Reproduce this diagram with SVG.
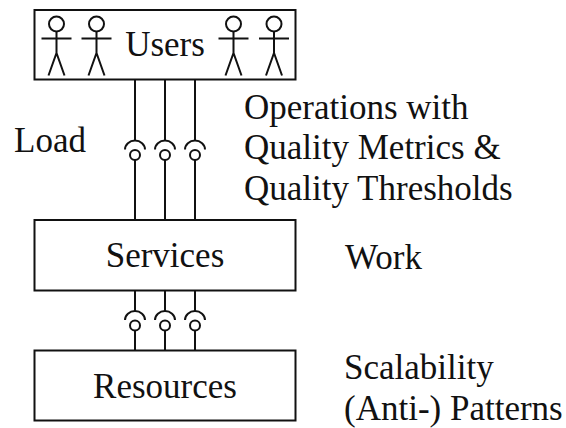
<svg xmlns="http://www.w3.org/2000/svg" width="566" height="428" viewBox="0 0 566 428">
<defs>
<style>
.s{fill:none;stroke:#111;stroke-width:2}
.b{fill:#fff;stroke:#111;stroke-width:2}
text{font-family:"Liberation Serif","Times New Roman",serif;font-size:35px;fill:#111}
.m{text-anchor:middle}
</style>
<g id="person" class="s">
<circle cx="0" cy="24" r="7.500"/>
<path d="M0 31.500V53M-15 38.500H15M-8 75.500L0 53L8 75.500"/>
</g>
<g id="joint" class="s">
<path d="M-10 149.500A10 9 0 0 1 10 149.500"/>
<circle cx="0" cy="155" r="5"/>
</g>
</defs>
<rect width="566" height="428" fill="#fff"/>
<g id="connectors" class="s">
<path d="M135 79V141M165 79V141M195 79V141M135 160V219M165 160V219M195 160V219"/>
<path d="M135 290V311M165 290V311M195 290V311M135 331V350M165 331V350M195 331V350"/>
<use href="#joint" x="135"/><use href="#joint" x="165"/><use href="#joint" x="195"/>
<use href="#joint" x="135" y="170.500"/><use href="#joint" x="165" y="170.500"/><use href="#joint" x="195" y="170.500"/>
</g>
<g id="users">
<rect class="b" x="34.500" y="10" width="261" height="69.500"/>
<use href="#person" x="56.500"/><use href="#person" x="96.500"/><use href="#person" x="233.500"/><use href="#person" x="274"/>
<text class="m" x="165" y="56">Users</text>
</g>
<g id="services">
<rect class="b" x="34.500" y="220" width="261" height="70.500"/>
<text class="m" x="165" y="267">Services</text>
</g>
<g id="resources">
<rect class="b" x="34.500" y="350.500" width="261" height="70"/>
<text class="m" x="165" y="398">Resources</text>
</g>
<g id="labels">
<text x="14" y="152">Load</text>
<text x="244" y="119">Operations with</text>
<text x="244" y="159">Quality Metrics &amp;</text>
<text x="244" y="200">Quality Thresholds</text>
<text x="345" y="269">Work</text>
<text x="344" y="379">Scalability</text>
<text x="344" y="420">(Anti-) Patterns</text>
</g>
</svg>
